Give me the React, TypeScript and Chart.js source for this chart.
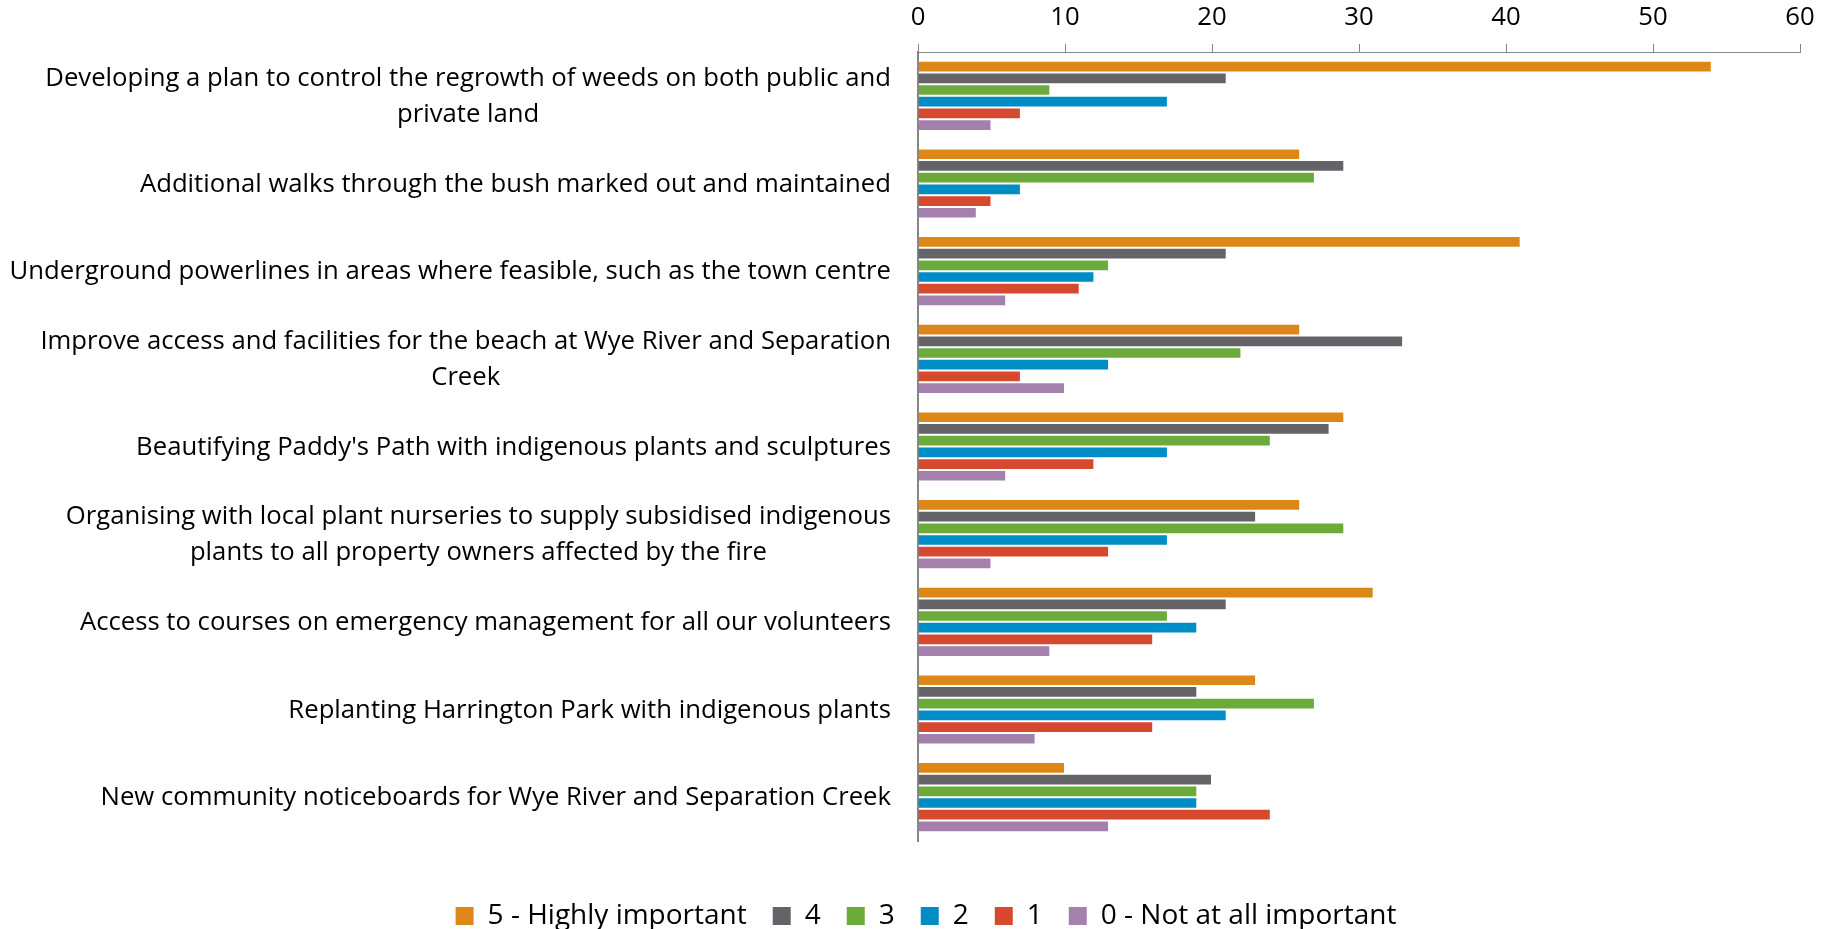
import React, { useEffect, useRef } from "react";
import { Chart, registerables } from "chart.js";

Chart.register(...registerables);

// ---- Data ----
const categories: (string | string[])[] = [
  ["Developing a plan to control the regrowth of weeds on both public and", "private land"],
  "Additional walks through the bush marked out and maintained",
  "Underground powerlines in areas where feasible, such as the town centre",
  ["Improve access and facilities for the beach at Wye River and Separation", "Creek"],
  "Beautifying Paddy's Path with indigenous plants and sculptures",
  ["Organising with local plant nurseries to supply subsidised indigenous", "plants to all property owners affected by the fire"],
  "Access to courses on emergency management for all our volunteers",
  "Replanting Harrington Park with indigenous plants",
  "New community noticeboards for Wye River and Separation Creek",
];
const seriesNames = ["5 - Highly important", "4", "3", "2", "1", "0 - Not at all important"];
const rating5 = [54, 26, 41, 26, 29, 26, 31, 23, 10];
const rating4 = [21, 29, 21, 33, 28, 23, 21, 19, 20];
const rating3 = [9, 27, 13, 22, 24, 29, 17, 27, 19];
const rating2 = [17, 7, 12, 13, 17, 17, 19, 21, 19];
const rating1 = [7, 5, 11, 7, 12, 13, 16, 16, 24];
const rating0 = [5, 4, 6, 10, 6, 5, 9, 8, 13];
const seriesColors = ["#DD8719", "#646368", "#6CAA3A", "#008CC5", "#D6492F", "#A480AD"];
const xMin = 0;
const xMax = 60;
const xStep = 10;

const FONT = "'Open Sans', sans-serif";
const FONT_SIZE = 25.7;
const LEGEND_FONT_SIZE = 28;
const LINE_H = 36;
const LABEL_GAP = 27;

const centeredLabels = {
  id: "centeredLabels",
  afterDraw(chart: any) {
    const y = chart.scales.y;
    const ctx = chart.ctx;
    ctx.save();
    ctx.font = `${FONT_SIZE}px ${FONT}`;
    ctx.fillStyle = "#000";
    ctx.textBaseline = "middle";
    ctx.textAlign = "center";
    const right = y.right - LABEL_GAP;
    categories.forEach((lbl, i) => {
      const lines = Array.isArray(lbl) ? lbl : [lbl];
      const w = Math.max(...lines.map((l) => ctx.measureText(l).width));
      const cx = right - w / 2;
      const cy = y.getPixelForTick(i) + 1;
      lines.forEach((ln, j) => {
        ctx.fillText(ln, cx, cy + (j - (lines.length - 1) / 2) * LINE_H);
      });
    });
    ctx.restore();
  },
};

export default function App() {
  const ref = useRef<HTMLCanvasElement | null>(null);

  useEffect(() => {
    if (!ref.current) return;
    const values = [rating5, rating4, rating3, rating2, rating1, rating0];
    const chart = new Chart(ref.current, {
      type: "bar",
      data: {
        labels: categories.map((c) => (Array.isArray(c) ? c.join(" ") : c)),
        datasets: seriesNames.map((name, i) => ({
          label: name,
          data: values[i],
          backgroundColor: seriesColors[i],
          borderColor: "rgba(255,255,255,0.45)",
          borderWidth: 1,
          categoryPercentage: 0.8,
          barPercentage: 1,
        })),
      },
      options: {
        indexAxis: "y",
        animation: false,
        responsive: true,
        maintainAspectRatio: false,
        layout: { padding: { left: 52, right: 37, top: 0, bottom: 0 } },
        scales: {
          x: {
            position: "top",
            min: xMin,
            max: xMax,
            afterFit: (s: any) => {
              s.height = 52;
            },
            ticks: {
              stepSize: xStep,
              color: "#000",
              padding: 11,
              font: { family: FONT, size: FONT_SIZE },
            },
            grid: {
              display: true,
              drawOnChartArea: false,
              drawTicks: true,
              tickLength: 8,
              color: "#868686",
              lineWidth: 1,
            },
            border: { display: true, color: "#868686", width: 1 },
          },
          y: {
            afterFit: (s: any) => {
              s.width = 918 - 52;
            },
            ticks: { display: false },
            grid: { display: false, drawTicks: false },
            border: { display: true, color: "#868686", width: 2 },
          },
        },
        plugins: {
          tooltip: { enabled: false },
          legend: {
            position: "bottom",
            title: { display: true, text: "", font: { size: 10 }, padding: { top: 23, bottom: 0 } },
            labels: {
              color: "#000",
              font: { family: FONT, size: LEGEND_FONT_SIZE },
              boxWidth: 18,
              boxHeight: 18,
              padding: 26,
              generateLabels: (c: any) =>
                Chart.defaults.plugins.legend.labels
                  .generateLabels(c)
                  .map((l: any) => ({ ...l, lineWidth: 0, strokeStyle: "transparent" })),
            },
          },
        },
      },
      plugins: [centeredLabels],
    } as any);
    return () => chart.destroy();
  }, []);

  return (
    <div style={{ position: "fixed", left: 0, top: 0, width: 1837, height: 929, overflow: "hidden", background: "#fff" }}>
      <div style={{ position: "relative", width: 1837, height: 940 }}>
        <canvas ref={ref} />
      </div>
    </div>
  );
}
